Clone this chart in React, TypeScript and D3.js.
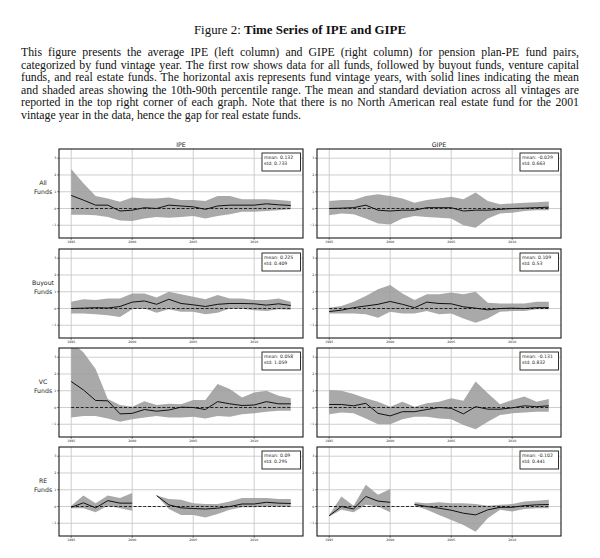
import React, { useLayoutEffect, useRef } from 'react';
import * as d3 from 'd3';

// ---------- data ----------
const years = [1995, 1996, 1997, 1998, 1999, 2000, 2001, 2002, 2003, 2004, 2005, 2006, 2007, 2008, 2009, 2010, 2011, 2012, 2013];
const yTicks = [-1, 0, 1, 2, 3];
const yTickLabels = ['\u22121', '0', '1', '2', '3'];
const xTicks = [1995, 2000, 2005, 2010];
const xTickLabels = ['1995', '2000', '2005', '2010'];
const columnTitles = ['IPE', 'GIPE'];
const rowLabels = [['All', 'Funds'], ['Buyout', 'Funds'], ['VC', 'Funds'], ['RE', 'Funds']];

// All funds
const ipeAllMean = [0.78, 0.5, 0.2, 0.2, -0.15, -0.1, 0.05, 0.0, 0.2, 0.15, 0.1, -0.05, 0.15, 0.2, 0.2, 0.2, 0.28, 0.22, 0.18];
const ipeAllHi = [2.35, 1.5, 0.75, 0.6, 0.4, 0.65, 0.6, 0.6, 0.65, 0.5, 0.5, 0.45, 0.75, 0.75, 0.55, 0.55, 0.55, 0.5, 0.45];
const ipeAllLo = [-0.38, -0.38, -0.4, -0.5, -0.72, -0.75, -0.6, -0.5, -0.55, -0.5, -0.45, -0.6, -0.45, -0.35, -0.2, -0.2, -0.15, -0.1, -0.05];
const gipeAllMean = [0.0, 0.02, 0.05, 0.2, -0.1, -0.15, -0.1, -0.1, 0.05, 0.05, 0.05, -0.15, -0.1, -0.1, -0.05, 0.0, 0.02, 0.05, 0.08];
const gipeAllHi = [0.45, 0.5, 0.5, 0.75, 0.85, 0.75, 0.6, 0.35, 0.5, 0.6, 0.7, 0.55, 0.95, 0.45, 0.25, 0.3, 0.35, 0.38, 0.42];
const gipeAllLo = [-0.4, -0.3, -0.35, -0.6, -0.9, -0.95, -0.6, -0.45, -0.5, -0.55, -0.6, -1.0, -1.15, -0.6, -0.3, -0.25, -0.15, -0.1, -0.1];

// Buyout funds
const ipeBoMean = [0.0, 0.02, 0.05, 0.03, 0.12, 0.38, 0.45, 0.25, 0.55, 0.3, 0.22, 0.12, 0.25, 0.3, 0.3, 0.28, 0.2, 0.28, 0.18];
const ipeBoHi = [0.4, 0.55, 0.5, 0.6, 0.6, 0.9, 0.9, 0.65, 1.0, 0.85, 0.7, 0.55, 0.8, 0.6, 0.6, 0.5, 0.5, 0.6, 0.4];
const ipeBoLo = [-0.3, -0.3, -0.35, -0.4, -0.5, -0.05, 0.0, -0.25, -0.05, -0.2, -0.2, -0.35, -0.25, 0.0, -0.02, -0.1, -0.15, -0.05, -0.08];
const gipeBoMean = [-0.18, -0.1, 0.05, 0.15, 0.25, 0.42, 0.25, 0.05, 0.38, 0.3, 0.28, 0.1, 0.02, -0.08, 0.0, 0.02, 0.0, 0.05, 0.05];
const gipeBoHi = [0.05, 0.15, 0.4, 0.75, 1.15, 1.4, 0.9, 0.5, 0.85, 0.85, 0.95, 0.85, 1.0, 0.35, 0.3, 0.3, 0.3, 0.4, 0.4];
const gipeBoLo = [-0.3, -0.3, -0.3, -0.35, -0.55, -0.2, -0.3, -0.3, -0.15, -0.35, -0.3, -0.6, -0.85, -0.6, -0.2, -0.15, -0.15, -0.05, -0.05];

// Venture capital funds
const ipeVcMean = [1.55, 1.05, 0.42, 0.4, -0.38, -0.35, -0.12, -0.22, -0.15, 0.02, 0.0, -0.12, 0.35, 0.22, 0.12, 0.15, 0.35, 0.22, 0.22];
const ipeVcHi = [3.9, 3.3, 2.3, 0.5, 0.15, 0.05, 0.38, 0.15, 0.22, 0.2, 0.45, 0.45, 1.4, 1.1, 0.6, 0.9, 1.0, 0.7, 0.55];
const ipeVcLo = [-0.6, -0.5, -0.5, -0.65, -0.85, -0.7, -0.6, -0.5, -0.6, -0.6, -0.55, -0.65, -0.5, -0.55, -0.4, -0.35, -0.25, -0.2, -0.2];
const gipeVcMean = [0.18, 0.18, 0.1, 0.25, -0.35, -0.5, -0.25, -0.25, -0.12, 0.0, -0.05, -0.38, 0.05, -0.1, -0.1, -0.02, 0.1, 0.05, 0.1];
const gipeVcHi = [1.05, 1.0, 0.8, 0.55, 0.35, 0.05, 0.35, 0.05, 0.25, 0.35, 0.55, 0.4, 1.55, 0.85, 0.2, 0.45, 0.65, 0.35, 0.5];
const gipeVcLo = [-0.4, -0.3, -0.35, -0.65, -1.0, -1.0, -0.7, -0.55, -0.55, -0.65, -0.7, -1.05, -1.3, -0.85, -0.45, -0.35, -0.3, -0.25, -0.25];

// Real estate funds (no 2001 vintage)
const ipeReMean = [-0.05, 0.22, -0.08, 0.35, 0.2, 0.2, null, 0.65, 0.1, -0.08, -0.12, -0.15, -0.1, 0.0, 0.15, 0.15, 0.25, 0.2, 0.18];
const ipeReHi = [0.05, 0.65, 0.2, 0.65, 0.5, 0.8, null, 0.65, 0.45, 0.4, 0.2, 0.15, 0.15, 0.3, 0.5, 0.5, 0.5, 0.45, 0.45];
const ipeReLo = [-0.1, -0.1, -0.35, 0.05, -0.1, -0.25, null, 0.65, -0.15, -0.5, -0.5, -0.65, -0.45, -0.2, -0.05, -0.05, 0.0, 0.0, 0.0];
const gipeReMean = [-0.55, 0.0, -0.15, 0.6, 0.32, 0.25, null, 0.12, 0.0, -0.1, -0.22, -0.4, -0.5, -0.2, -0.05, -0.05, 0.05, 0.1, 0.12];
const gipeReHi = [-0.5, 0.6, 0.05, 1.3, 0.7, 1.05, null, 0.25, 0.2, 0.25, 0.2, 0.2, 0.15, 0.05, 0.1, 0.15, 0.3, 0.35, 0.4];
const gipeReLo = [-0.6, -0.2, -0.35, 0.1, 0.0, -0.35, null, 0.05, -0.2, -0.5, -0.8, -1.1, -1.5, -0.7, -0.2, -0.3, -0.15, -0.1, -0.1];

const ipeStats = [['mean: 0.132', 'std: 0.733'], ['mean: 0.225', 'std: 0.409'], ['mean: 0.058', 'std: 1.059'], ['mean: 0.09', 'std: 0.295']];
const gipeStats = [['mean: -0.029', 'std: 0.663'], ['mean: 0.109', 'std: 0.53'], ['mean: -0.131', 'std: 0.832'], ['mean: -0.102', 'std: 0.441']];

const titleRegular = 'Figure 2: ';
const titleBold = 'Time Series of IPE and GIPE';
const captionLines = [
  'This figure presents the average IPE (left column) and GIPE (right column) for pension plan-PE fund pairs,',
  'categorized by fund vintage year. The first row shows data for all funds, followed by buyout funds, venture capital',
  'funds, and real estate funds. The horizontal axis represents fund vintage years, with solid lines indicating the mean',
  'and shaded areas showing the 10th-90th percentile range. The mean and standard deviation across all vintages are',
  'reported in the top right corner of each graph. Note that there is no North American real estate fund for the 2001',
  'vintage year in the data, hence the gap for real estate funds.',
];

const series = [
  [ipeAllMean, ipeAllHi, ipeAllLo, gipeAllMean, gipeAllHi, gipeAllLo],
  [ipeBoMean, ipeBoHi, ipeBoLo, gipeBoMean, gipeBoHi, gipeBoLo],
  [ipeVcMean, ipeVcHi, ipeVcLo, gipeVcMean, gipeVcHi, gipeVcLo],
  [ipeReMean, ipeReHi, ipeReLo, gipeReMean, gipeReHi, gipeReLo],
];

// ---------- layout ----------
const W = 600;
const H = 558;
const colX: [number, number][] = [[59, 303], [317, 561]];
const rowTop = [149, 249, 348, 447];
const panelH = 89;
const sans = 'DejaVu Sans, sans-serif';
const serif = 'Liberation Serif, Times New Roman, serif';
const captionX0 = 21;
const captionX1 = 579;

function Panel({ row, col }: { row: number; col: number }) {
  const [x0, x1] = colX[col];
  const top = rowTop[row];
  const bottom = top + panelH;
  const x = d3.scaleLinear().domain([1994, 2014]).range([x0, x1]);
  const y = d3.scaleLinear().domain([-1.76, 3.55]).range([bottom, top]);
  const s = series[row];
  const mean = s[col * 3] as (number | null)[];
  const hi = s[col * 3 + 1] as (number | null)[];
  const lo = s[col * 3 + 2] as (number | null)[];
  const idx = years.map((_, i) => i);
  const area = d3
    .area<number>()
    .defined((i) => hi[i] != null && lo[i] != null)
    .x((i) => x(years[i]))
    .y0((i) => y(lo[i] as number))
    .y1((i) => y(hi[i] as number));
  const line = d3
    .line<number>()
    .defined((i) => mean[i] != null)
    .x((i) => x(years[i]))
    .y((i) => y(mean[i] as number));
  const zeroLine = d3
    .line<number>()
    .x((i) => x(years[i]))
    .y(() => y(0));
  const clipId = `clip-${row}-${col}`;
  const stats = col === 0 ? ipeStats[row] : gipeStats[row];
  return (
    <g>
      <defs>
        <clipPath id={clipId}>
          <rect x={x0} y={top} width={x1 - x0} height={panelH} />
        </clipPath>
      </defs>
      <rect x={x0} y={top} width={x1 - x0} height={panelH} fill="#fff" />
      <g clipPath={`url(#${clipId})`}>
        {yTicks.map((t) => (
          <line key={'gy' + t} x1={x0} x2={x1} y1={y(t)} y2={y(t)} stroke="#c8c8c8" strokeWidth={0.9} />
        ))}
        {xTicks.map((t) => (
          <line key={'gx' + t} x1={x(t)} x2={x(t)} y1={top} y2={bottom} stroke="#c8c8c8" strokeWidth={0.9} />
        ))}
        <path d={area(idx) || ''} fill="#9a9a9a" fillOpacity={0.85} stroke="none" />
        <path d={zeroLine(idx) || ''} fill="none" stroke="#111" strokeWidth={0.9} strokeDasharray="3,1.8" />
        <path d={line(idx) || ''} fill="none" stroke="#111" strokeWidth={1} />
      </g>
      <rect x={x0} y={top} width={x1 - x0} height={panelH} fill="none" stroke="#1a1a1a" strokeWidth={1.1} />
      {yTicks.map((t, i) => (
        <g key={'ty' + t}>
          <line x1={x0 - 1.8} x2={x0} y1={y(t)} y2={y(t)} stroke="#222" strokeWidth={0.6} />
          <text x={x0 - 2.8} y={y(t)} dy="0.35em" fontSize={3.2} textAnchor="end" fontFamily={sans} fill="#222">
            {yTickLabels[i]}
          </text>
        </g>
      ))}
      {xTicks.map((t, i) => (
        <g key={'tx' + t}>
          <line x1={x(t)} x2={x(t)} y1={bottom} y2={bottom + 1.8} stroke="#222" strokeWidth={0.6} />
          <text x={x(t)} y={bottom + 5.2} fontSize={3.2} textAnchor="middle" fontFamily={sans} fill="#222">
            {xTickLabels[i]}
          </text>
        </g>
      ))}
      <rect x={x1 - 41} y={top + 4} width={38.5} height={18} fill="#fff" stroke="#1a1a1a" strokeWidth={0.9} />
      <text x={x1 - 39} y={top + 10.3} fontSize={4.6} fontFamily={sans} fill="#222">
        {stats[0]}
      </text>
      <text x={x1 - 39} y={top + 15.8} fontSize={4.6} fontFamily={sans} fill="#222">
        {stats[1]}
      </text>
    </g>
  );
}

export default function App() {
  const refs = useRef<(SVGTextElement | null)[]>([]);
  useLayoutEffect(() => {
    refs.current.forEach((el, i) => {
      if (!el || i === captionLines.length - 1) return;
      el.setAttribute('word-spacing', '0');
      const natural = el.getComputedTextLength();
      const spaces = (captionLines[i].match(/ /g) || []).length;
      if (spaces > 0) {
        el.setAttribute('word-spacing', String((captionX1 - captionX0 - natural) / spaces));
      }
    });
  }, []);
  const captionY0 = 56;
  const captionDy = 12.5;
  return (
    <svg
      width={W}
      height={H}
      viewBox={`0 0 ${W} ${H}`}
      style={{ position: 'absolute', left: 0, top: 0, background: '#fff' }}
    >
      <rect x={0} y={0} width={W} height={H} fill="#fff" />
      <text x={W / 2} y={34} textAnchor="middle" fontSize={12.9} fontFamily={serif} fill="#111">
        <tspan>{titleRegular}</tspan>
        <tspan fontWeight="bold">{titleBold}</tspan>
      </text>
      {captionLines.map((ln, i) => (
        <text
          key={i}
          ref={(el) => {
            refs.current[i] = el;
          }}
          x={captionX0}
          y={captionY0 + i * captionDy}
          fontSize={11.8}
          fontFamily={serif}
          fill="#111"
        >
          {ln}
        </text>
      ))}
      {columnTitles.map((t, c) => (
        <text
          key={t}
          x={(colX[c][0] + colX[c][1]) / 2}
          y={147}
          textAnchor="middle"
          fontSize={6.3}
          fontFamily={sans}
          fill="#222"
        >
          {t}
        </text>
      ))}
      {rowLabels.map((lbl, r) => (
        <g key={r}>
          <text x={43} y={rowTop[r] + 36} textAnchor="middle" fontSize={6.2} fontFamily={sans} fill="#222">
            {lbl[0]}
          </text>
          <text x={43} y={rowTop[r] + 45} textAnchor="middle" fontSize={6.2} fontFamily={sans} fill="#222">
            {lbl[1]}
          </text>
        </g>
      ))}
      {rowLabels.map((_, r) =>
        [0, 1].map((c) => <Panel key={`${r}-${c}`} row={r} col={c} />)
      )}
    </svg>
  );
}
